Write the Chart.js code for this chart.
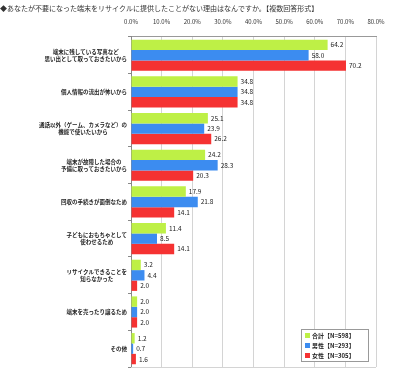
<!DOCTYPE html>
<html>
<head>
<meta charset="utf-8">
<script src="https://cdn.jsdelivr.net/npm/chart.js@4"></script>
<style>
  html, body { margin: 0; padding: 0; background: #fff; }
  #wrap { width: 400px; height: 373px; }
</style>
</head>
<body>
<div id="wrap"><canvas id="reasons"></canvas></div>
<script>
var titleText = '◆あなたが不要になった端末をリサイクルに提供したことがない理由はなんですか。【複数回答形式】';

var categories = [
    ['端末に残している写真など', '思い出として取っておきたいから'],
    ['個人情報の流出が怖いから'],
    ['通話以外（ゲーム、カメラなど）の', '機能で使いたいから'],
    ['端末が故障した場合の', '予備に取っておきたいから'],
    ['回収の手続きが面倒なため'],
    ['子どもにおもちゃとして', '使わせるため'],
    ['リサイクルできることを', '知らなかった'],
    ['端末を売ったり譲るため'],
    ['その他']
];

var seriesNames = ['合計【N=598】', '男性【N=293】', '女性【N=305】'];
var totalValues = [64.2, 34.8, 25.1, 24.2, 17.9, 11.4, 3.2, 2.0, 1.2];
var maleValues = [58.0, 34.8, 23.9, 28.3, 21.8, 8.5, 4.4, 2.0, 0.7];
var femaleValues = [70.2, 34.8, 26.2, 20.3, 14.1, 14.1, 2.0, 2.0, 1.6];

var xTicks = [0, 10, 20, 30, 40, 50, 60, 70, 80];

var green = 'rgb(190, 240, 70)';
var blue = 'rgb(60, 140, 240)';
var red = 'rgb(245, 50, 50)';
var jpFont = '"Noto Sans CJK JP", "Noto Sans", sans-serif';


////////////////////////////////////////////////////////////////////////////////
// Plugins: category labels, value labels, legend box.

// Category labels: each label block right aligned, its lines centered.
var categoryLabels = {
    id: 'categoryLabels',
    afterDraw: function (chart) {
        var ctx = chart.ctx;
        var y = chart.scales.y;
        ctx.save();
        ctx.font = 'bold 5.5px ' + jpFont;
        ctx.fillStyle = '#222';
        ctx.textAlign = 'center';
        ctx.textBaseline = 'middle';
        categories.forEach(function (lines, i) {
            var yc = y.getPixelForValue(i);
            var w = Math.max.apply(null, lines.map(function (l) { return ctx.measureText(l).width; }));
            var xc = y.right - 4 - w / 2;
            lines.forEach(function (l, j) {
                ctx.fillText(l, xc, yc + (j - (lines.length - 1) / 2) * 7.5);
            });
        });
        ctx.restore();
    }
};

// Numbers at the end of each bar.
var valueLabels = {
    id: 'valueLabels',
    afterDatasetsDraw: function (chart) {
        var ctx = chart.ctx;
        ctx.save();
        ctx.font = '6.5px ' + jpFont;
        ctx.fillStyle = '#222';
        ctx.textAlign = 'left';
        ctx.textBaseline = 'middle';
        chart.data.datasets.forEach(function (ds, di) {
            chart.getDatasetMeta(di).data.forEach(function (bar, i) {
                ctx.fillText(ds.data[i].toFixed(1), bar.x + 3, bar.y);
            });
        });
        // Bottom edge of the plot.
        var a = chart.chartArea;
        ctx.strokeStyle = '#d4d4d4';
        ctx.lineWidth = 1;
        ctx.beginPath();
        ctx.moveTo(a.left, a.bottom + 0.5);
        ctx.lineTo(a.right, a.bottom + 0.5);
        ctx.stroke();
        ctx.restore();
    }
};

// Legend box in the lower right of the plot.
var legendBox = {
    id: 'legendBox',
    afterDraw: function (chart) {
        var ctx = chart.ctx;
        var a = chart.chartArea;
        var bx = a.right - 75, by = a.bottom - 38, bw = 67, bh = 32;
        ctx.save();
        ctx.fillStyle = '#fff';
        ctx.fillRect(bx, by, bw, bh);
        ctx.strokeStyle = '#999';
        ctx.lineWidth = 1;
        ctx.strokeRect(bx + 0.5, by + 0.5, bw, bh);
        ctx.font = 'bold 6px ' + jpFont;
        ctx.textBaseline = 'middle';
        ctx.textAlign = 'left';
        chart.data.datasets.forEach(function (ds, i) {
            var ry = by + 6.5 + i * 10;
            ctx.fillStyle = ds.backgroundColor;
            ctx.fillRect(bx + 4, ry - 2.5, 5, 5);
            ctx.fillStyle = '#222';
            ctx.fillText(ds.label, bx + 11, ry);
        });
        ctx.restore();
    }
};


////////////////////////////////////////////////////////////////////////////////
// Chart.

var ctx = document.getElementById('reasons').getContext('2d');
var myChart = new Chart(ctx, {
    type: 'bar',
    plugins: [categoryLabels, valueLabels, legendBox],
    data: {
        labels: categories,
        datasets: [
            { label: seriesNames[0], data: totalValues, backgroundColor: green },
            { label: seriesNames[1], data: maleValues, backgroundColor: blue },
            { label: seriesNames[2], data: femaleValues, backgroundColor: red }
        ]
    },
    options: {
        indexAxis: 'y',
        responsive: true,
        maintainAspectRatio: false,
        animation: false,
        categoryPercentage: 0.85,
        barPercentage: 1.0,
        layout: {
            padding: { left: 0, right: 24, top: 0, bottom: 6 }
        },
        plugins: {
            legend: { display: false },
            tooltip: { enabled: false },
            title: {
                display: true,
                text: titleText,
                align: 'start',
                color: '#333',
                font: { family: jpFont, size: 7, weight: 'normal' },
                padding: { top: 4, bottom: 4 }
            }
        },
        scales: {
            x: {
                position: 'top',
                min: 0,
                max: 80,
                afterBuildTicks: function (scale) {
                    scale.ticks = xTicks.map(function (v) { return { value: v }; });
                },
                afterFit: function (scale) {
                    scale.height = 20.5;
                },
                grid: {
                    color: '#d4d4d4',
                    drawTicks: false
                },
                border: { display: true, color: '#999' },
                ticks: {
                    padding: 12,
                    color: '#333',
                    font: { family: jpFont, size: 6 },
                    callback: function (v) { return v.toFixed(1) + '%'; }
                }
            },
            y: {
                afterFit: function (scale) {
                    scale.width = 131;
                },
                grid: {
                    offset: true,
                    drawOnChartArea: false,
                    tickLength: 3,
                    color: '#888'
                },
                border: { display: true, color: '#888' },
                ticks: { display: false }
            }
        }
    }
});
</script>
</body>
</html>
